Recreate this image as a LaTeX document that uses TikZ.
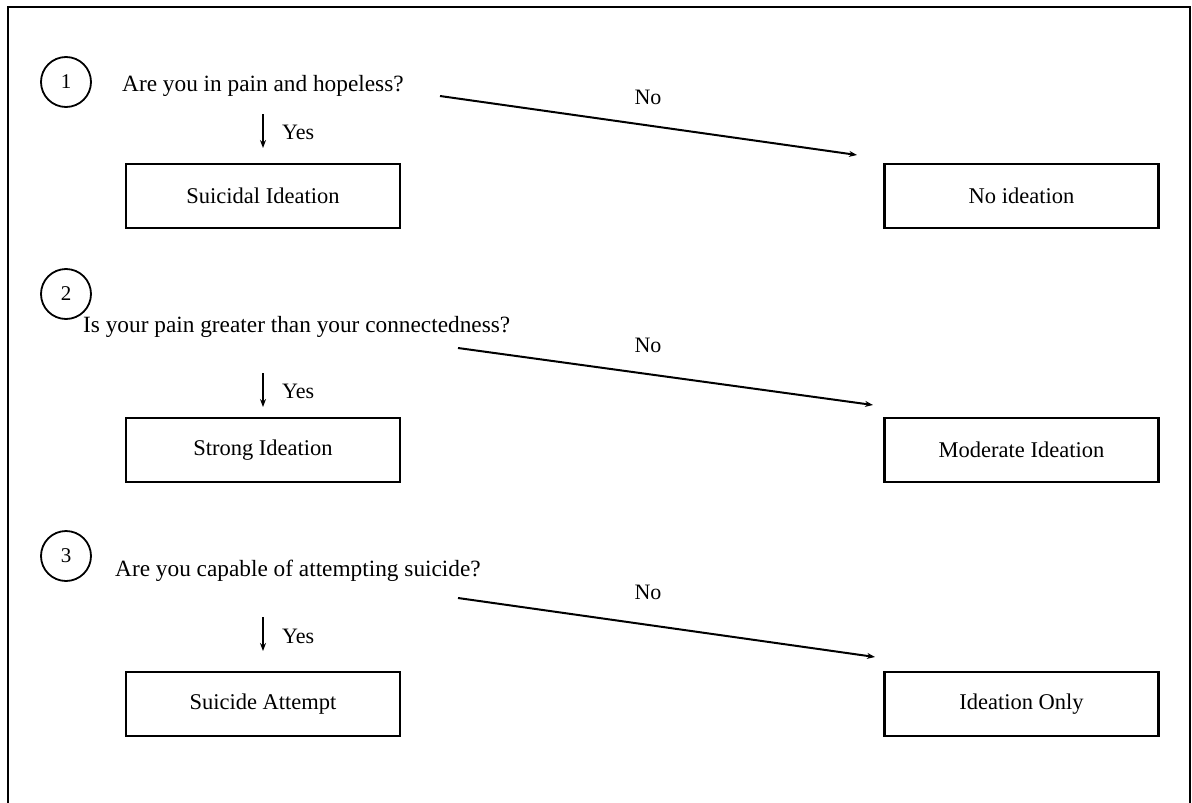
\documentclass[tikz,border=0pt]{standalone}
\usepackage{fontspec}
\setmainfont{Liberation Serif}
\usetikzlibrary{arrows.meta}
\begin{document}
\begin{tikzpicture}[x=1pt,y=-1pt,
 outbox/.style={draw, line width=2.2pt, minimum width=274pt, minimum height=64pt, font=\fontsize{22.5}{26}\selectfont, inner sep=0pt},
 numc/.style={draw, line width=1.8pt, circle, minimum size=50pt, inner sep=0pt, font=\fontsize{21}{24}\selectfont},
 qtext/.style={font=\fontsize{23.3}{27}\selectfont, inner sep=0pt, anchor=base west},
 lbl/.style={font=\fontsize{22}{25}\selectfont, inner sep=0pt},
 arr/.style={-{Stealth[length=8pt,width=6pt]}, line width=2pt}]
\useasboundingbox (0,0) rectangle (1192,803);
\draw[line width=2pt] (8,803) -- (8,7) -- (1190,7) -- (1190,803);

% row 1
\node[numc] (c1) at (66,82) {1};
\node[qtext] (q1) at (122,91) {Are you in pain and hopeless?};
\node[outbox] (b1) at (263,196) {Suicidal Ideation};
\node[outbox] (r1) at (1021.5,196) {No ideation};
\coordinate (y1s) at (263,114);
\coordinate (y1e) at (263,148);
\draw[arr] (y1s) -- (y1e);
\node[lbl, anchor=west] (yes1) at (282,132) {Yes};
\coordinate (n1s) at (440,96);
\coordinate (n1e) at (857,155);
\draw[arr] (n1s) -- (n1e);
\node[lbl] (no1) at (648,97) {No};

% row 2
\node[numc] (c2) at (66,294) {2};
\node[qtext] (q2) at (83,332) {Is your pain greater than your connectedness?};
\node[outbox] (b2) at (263,450) {Strong Ideation};
\node[outbox] (r2) at (1021.5,450) {Moderate Ideation};
\coordinate (y2s) at (263,373);
\coordinate (y2e) at (263,407);
\draw[arr] (y2s) -- (y2e);
\node[lbl, anchor=west] (yes2) at (282,391) {Yes};
\coordinate (n2s) at (458,348);
\coordinate (n2e) at (873,405);
\draw[arr] (n2s) -- (n2e);
\node[lbl] (no2) at (648,345) {No};

% row 3
\node[numc] (c3) at (66,556) {3};
\node[qtext] (q3) at (115,576) {Are you capable of attempting suicide?};
\node[outbox] (b3) at (263,704) {Suicide Attempt};
\node[outbox] (r3) at (1021.5,704) {Ideation Only};
\coordinate (y3s) at (263,617);
\coordinate (y3e) at (263,651);
\draw[arr] (y3s) -- (y3e);
\node[lbl, anchor=west] (yes3) at (282,636) {Yes};
\coordinate (n3s) at (458,598);
\coordinate (n3e) at (875,657);
\draw[arr] (n3s) -- (n3e);
\node[lbl] (no3) at (648,592) {No};
\end{tikzpicture}
\end{document}
